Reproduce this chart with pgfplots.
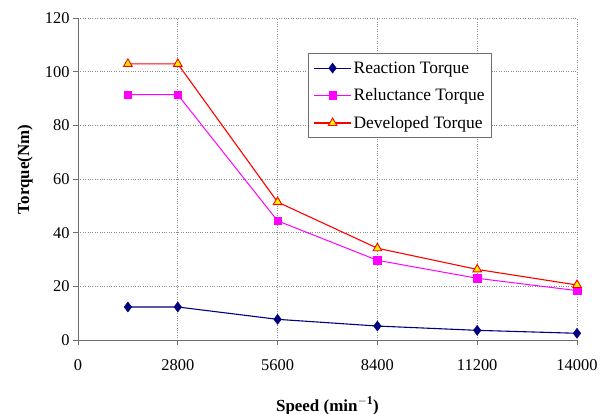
\documentclass[border=0pt]{standalone}
\usepackage{fontspec}
\setmainfont{Liberation Serif}
\usepackage{pgfplots}
\pgfplotsset{compat=1.18}
\definecolor{navyline}{RGB}{0,0,128}
\definecolor{magline}{RGB}{255,0,255}
\definecolor{redline}{RGB}{255,0,0}
\definecolor{axgray}{RGB}{110,110,110}
\begin{document}
\begin{tikzpicture}
\begin{axis}[
  scale only axis,
  width=499bp, height=322bp,
  xmin=0, xmax=14000, ymin=0, ymax=120,
  xtick={0,2800,5600,8400,11200,14000},
  ytick={0,20,40,60,80,100,120},
  scaled x ticks=false,
  xticklabel style={/pgf/number format/1000 sep={}, yshift=-11bp},
  /pgf/number format/assume math mode=true,
  axis x line*=bottom, axis y line*=left,
  axis line style={axgray, line width=1pt, -},
  tick align=outside,
  tick style={axgray, line width=0.8pt},
  major tick length=5bp,
  grid=major,
  grid style={dotted, gray!90, line width=0.8pt},
  ticklabel style={font=\rmfamily\fontsize{16.5}{19}\selectfont},
  xlabel={\textbf{Speed (min$^{\mathbf{-1}}$)}},
  ylabel={\textbf{Torque(Nm)}},
  every axis x label/.style={at={(axis description cs:0.5,-0.205)}, anchor=center},
  every axis y label/.style={at={(axis description cs:-0.106,0.53)}, anchor=center, rotate=90},
  label style={font=\rmfamily\fontsize{17}{20}\selectfont},
  legend style={at={(0.461,0.891)}, anchor=north west, draw=axgray, line width=1pt,
    font=\rmfamily\fontsize{17.5}{20}\selectfont, row sep=10bp, inner xsep=5bp, inner ysep=6bp,
    nodes={inner sep=2bp}},
  legend cell align=left,
  legend image code/.code={\draw[mark repeat=2,mark phase=2,#1] plot coordinates {(0bp,0bp) (18.5bp,0bp) (37bp,0bp)};},
]
\addplot[color=navyline, line width=1.1pt, mark=diamond*, mark size=5pt, mark options={fill=navyline, line width=0.5pt}]
 coordinates {(1400,12.3) (2800,12.3) (5600,7.7) (8400,5.2) (11200,3.6) (14000,2.5)};
\addlegendentry{Reaction Torque}
\addplot[color=magline, line width=1pt, mark=square*, mark size=3.8pt, mark options={fill=magline, line width=0.5pt}]
 coordinates {(1400,91.4) (2800,91.4) (5600,44.4) (8400,29.7) (11200,23.0) (14000,18.4)};
\addlegendentry{Reluctance Torque}
\addplot[color=redline, line width=1.1pt, mark=triangle*, mark size=5pt, mark options={fill=yellow, draw=redline, line width=0.9pt}]
 coordinates {(1400,102.9) (2800,102.9) (5600,51.4) (8400,34.2) (11200,26.3) (14000,20.5)};
\addlegendentry{Developed Torque}
\end{axis}
\pgfresetboundingbox
\path (current axis.south west) ++(-78bp,-74bp) rectangle ++(606bp,414bp);
\end{tikzpicture}
\end{document}
